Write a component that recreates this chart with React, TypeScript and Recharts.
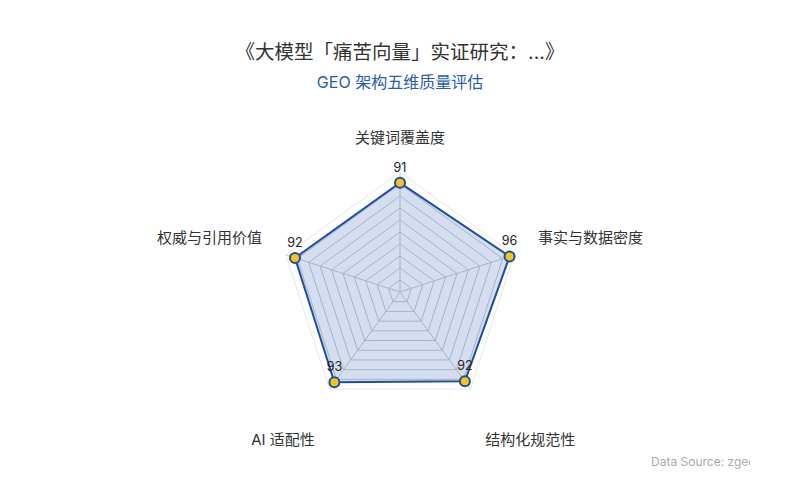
import React from 'react';
import {
  RadarChart,
  Radar,
  PolarGrid,
  PolarAngleAxis,
  PolarRadiusAxis,
} from 'recharts';

const dimensions = ['关键词覆盖度', '事实与数据密度', '结构化规范性', 'AI 适配性', '权威与引用价值'];
const scores = [91, 96, 92, 93, 92];
const gridLevels = [10, 20, 30, 40, 50, 60, 70, 80, 90];
const maxScore = 100;

const data = dimensions.map((name, i) => ({ name, score: scores[i] }));

const FONT = 'Inter, "Noto Sans CJK SC", "Noto Sans", sans-serif';
const CX = 400;
const CY = 292;
const OUTER = 120;

const AngleTick = (props: any) => {
  const { payload } = props;
  const rad = (payload.coordinate * Math.PI) / 180;
  const c = Math.cos(rad);
  const s = Math.sin(rad);
  const r = OUTER + 25;
  const x = CX + c * r;
  let y = CY - s * r;
  const anchor = Math.abs(c) < 0.01 ? 'middle' : c > 0 ? 'start' : 'end';
  if (s < -0.5) y += 36;
  else y -= 4;
  return (
    <text x={x} y={y} textAnchor={anchor} fontSize={15} fill="#333" fontFamily={FONT}>
      {payload.value}
    </text>
  );
};

const ScoreDot = (props: any) => {
  const { cx, cy, value } = props;
  const v = Array.isArray(value) ? value[1] : value;
  return (
    <g>
      <circle cx={cx} cy={cy} r={5} fill="#f5c518" stroke="#1f4e9e" strokeWidth={2} />
      <text x={cx} y={cy - 11} textAnchor="middle" fontSize={12.5} fill="#222" fontFamily={FONT}>
        {v}
      </text>
    </g>
  );
};

export default function App() {
  return (
    <div
      style={{
        position: 'fixed',
        left: 0,
        top: 0,
        width: 800,
        height: 500,
        background: '#fff',
        fontFamily: FONT,
      }}
    >
      <div
        style={{
          position: 'absolute',
          top: 38,
          width: 800,
          textAlign: 'center',
          fontSize: 19.5,
          color: '#333',
          lineHeight: '28px',
        }}
      >
        《大模型「痛苦向量」实证研究：...》
      </div>
      <div
        style={{
          position: 'absolute',
          top: 71,
          width: 800,
          textAlign: 'center',
          fontSize: 16,
          color: '#2a5caa',
          lineHeight: '22px',
        }}
      >
        GEO 架构五维质量评估
      </div>
      <RadarChart
        width={800}
        height={500}
        data={data}
        cx={CX}
        cy={CY}
        outerRadius={OUTER}
        margin={{ top: 0, right: 0, bottom: 0, left: 0 }}
        style={{ position: 'absolute', left: 0, top: 0 }}
      >
        <PolarRadiusAxis domain={[0, maxScore]} tick={false} axisLine={false} />
        <PolarGrid
          gridType="polygon"
          polarRadius={gridLevels.map((l) => (l / maxScore) * OUTER)}
          stroke="#c3c9d6"
          strokeWidth={1}
        />
        <PolarGrid
          gridType="polygon"
          polarRadius={[OUTER]}
          radialLines={false}
          stroke="#e3e8f1"
          strokeWidth={1}
        />
        <PolarAngleAxis dataKey="name" tick={<AngleTick />} tickLine={false} axisLine={false} />
        <Radar
          dataKey="score"
          stroke="#1f4e9e"
          strokeWidth={2}
          fill="#2b5aa8"
          fillOpacity={0.2}
          dot={<ScoreDot />}
          isAnimationActive={false}
        />
      </RadarChart>
      <div
        style={{
          position: 'absolute',
          left: 651,
          top: 453,
          width: 99,
          overflow: 'hidden',
          whiteSpace: 'nowrap',
          fontSize: 12,
          color: '#aaa',
          lineHeight: '18px',
        }}
      >
        Data Source: zgeo.ai
      </div>
    </div>
  );
}
